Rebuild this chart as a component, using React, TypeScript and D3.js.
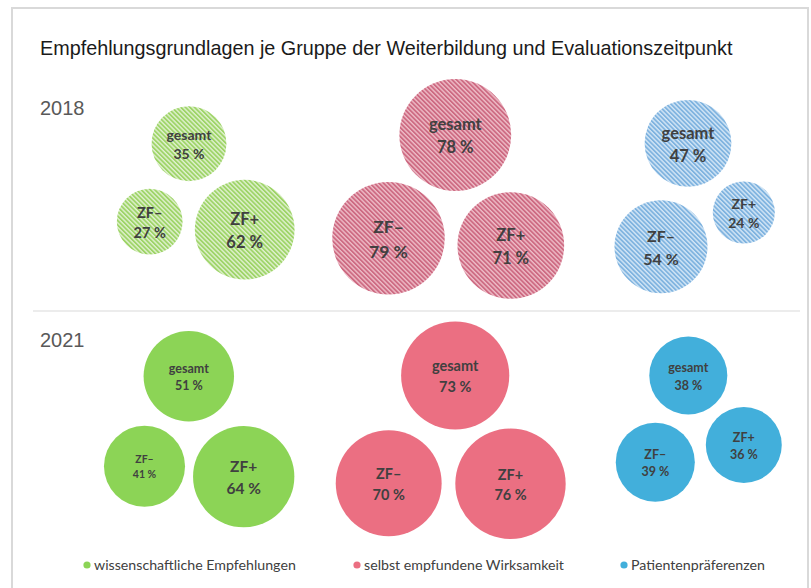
import React from "react";
import * as d3 from "d3";

// ---------- data ----------
const TITLE = "Empfehlungsgrundlagen je Gruppe der Weiterbildung und Evaluationszeitpunkt";
const YEARS = ["2018", "2021"];
const GROUPS = ["wissenschaftliche Empfehlungen", "selbst empfundene Wirksamkeit", "Patientenpräferenzen"];
const SLOTS = ["gesamt", "ZF–", "ZF+"];

// values per slot (gesamt, ZF–, ZF+)
const WISS_2018 = [35, 27, 62];
const WIRK_2018 = [78, 79, 71];
const PAT_2018 = [47, 54, 24];
const WISS_2021 = [51, 41, 64];
const WIRK_2021 = [73, 70, 76];
const PAT_2021 = [38, 39, 36];

const VALUES: number[][][] = [
  [WISS_2018, WIRK_2018, PAT_2018],
  [WISS_2021, WIRK_2021, PAT_2021],
];

// ---------- layout (positions / styles, not data) ----------
// anchor (gesamt centre) per year/group and offsets of ZF– / ZF+ relative to it
const ANCHORS = [
  [[189, 143.7], [455.3, 135], [688, 143.3]],
  [[188.8, 376.2], [455.2, 375.5], [688.3, 375.5]],
];
const OFFSETS = [
  [[[0, 0], [-39.3, 78], [55.7, 86]], [[0, 0], [-66.8, 103.3], [55.5, 110.5]], [[0, 0], [-27, 103.4], [55.8, 69.2]]],
  [[[0, 0], [-44.3, 90.1], [54.9, 100.5]], [[0, 0], [-66.5, 107.8], [55.3, 108.3]], [[0, 0], [-33, 86.7], [55.5, 69.5]]],
];
const FONT_SIZES = [
  [[14, 14.5, 16.5], [16.5, 17.5, 16.5], [16.5, 16, 14]],
  [[12.5, 10.5, 15.5], [14.5, 14.5, 14.5], [12.5, 12.5, 12.5]],
];
const SOLID = ["#8cd456", "#eb6f82", "#42afdb"];
const HATCH_BG = ["#e0f1cf", "#eebcc7", "#d3e6f6"];
const HATCH_FG = ["#9ed468", "#cd6a82", "#7fb3df"];
const LEGEND_X = [87, 357, 624];

const W = 811;
const H = 588;

export default function App() {
  const r = d3.scaleSqrt().domain([0, 100]).range([0, 63.3]);
  const labelFont = "Lato, 'Open Sans', sans-serif";
  const axisFont = "'Liberation Sans', Arial, sans-serif";

  return (
    <svg
      width={W}
      height={H}
      style={{ position: "absolute", left: 0, top: 0, background: "#fff" }}
      xmlns="http://www.w3.org/2000/svg"
    >
      <defs>
        {GROUPS.map((g, gi) => (
          <pattern
            key={g}
            id={`hatch-${gi}`}
            patternUnits="userSpaceOnUse"
            width={3.2}
            height={3.2}
            patternTransform="rotate(-45)"
          >
            <rect width={3.2} height={3.2} fill={HATCH_BG[gi]} />
            <rect width={1.8} height={3.2} fill={HATCH_FG[gi]} />
          </pattern>
        ))}
      </defs>

      {/* frame */}
      <path d={`M12,${H + 5} L12,8 L808,8 L808,${H + 5}`} fill="none" stroke="#d9d9d9" strokeWidth={2} />
      {/* divider */}
      <line x1={33} x2={800} y1={311} y2={311} stroke="#d9d9d9" strokeWidth={1.2} />

      <text x={40} y={55} fontFamily={axisFont} fontSize={19.8} fill="#1a1a1a">
        {TITLE}
      </text>

      {YEARS.map((y, yi) => (
        <text key={y} x={40} y={yi === 0 ? 115 : 347} fontFamily={axisFont} fontSize={20} fill="#595959">
          {y}
        </text>
      ))}

      {YEARS.map((y, yi) =>
        GROUPS.map((g, gi) =>
          SLOTS.map((s, si) => {
            const v = VALUES[yi][gi][si];
            const cx = ANCHORS[yi][gi][0] + OFFSETS[yi][gi][si][0];
            const cy = ANCHORS[yi][gi][1] + OFFSETS[yi][gi][si][1];
            const fs = FONT_SIZES[yi][gi][si];
            return (
              <g key={`${y}-${g}-${s}`}>
                <circle cx={cx} cy={cy} r={r(v)} fill={yi === 0 ? `url(#hatch-${gi})` : SOLID[gi]} />
                <text
                  x={cx}
                  textAnchor="middle"
                  fontFamily={labelFont}
                  fontWeight={700}
                  fontSize={fs}
                  fill="#404040"
                >
                  <tspan x={cx} y={cy - 0.28 * fs}>
                    {s}
                  </tspan>
                  <tspan x={cx} y={cy + 1.12 * fs}>
                    {`${v} %`}
                  </tspan>
                </text>
              </g>
            );
          })
        )
      )}

      {GROUPS.map((g, gi) => (
        <g key={g}>
          <circle cx={LEGEND_X[gi]} cy={565} r={3.6} fill={SOLID[gi]} />
          <text x={LEGEND_X[gi] + 7} y={569.5} fontFamily={labelFont} fontSize={14.2} fill="#404040">
            {g}
          </text>
        </g>
      ))}
    </svg>
  );
}
